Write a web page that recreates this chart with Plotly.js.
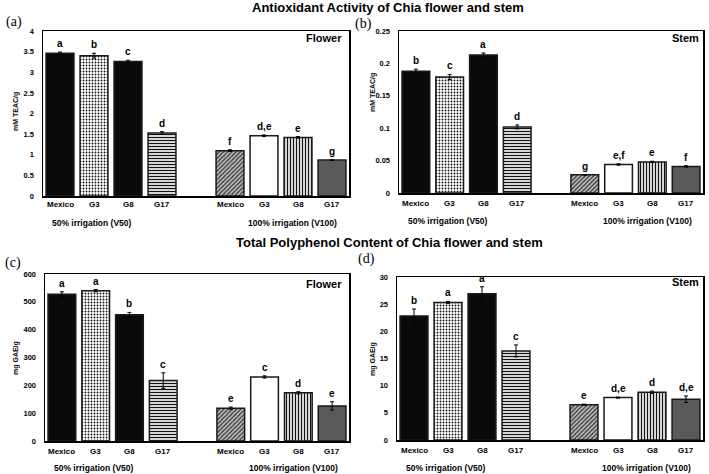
<!DOCTYPE html>
<html><head><meta charset="utf-8">
<script src="https://cdn.plot.ly/plotly-3.0.1.min.js"></script>
<style>body{margin:0;background:#fff}#chart{width:709px;height:474px}</style>
</head><body><div id="chart"></div>
<script>
// ---- data ----
const cultivars = ['Mexico', 'G3', 'G8', 'G17'];
const groupLabels = ['50% irrigation (V50)', '100% irrigation (V100)'];

const flowerTEAC_V50 = [3.46, 3.40, 3.26, 1.53];
const flowerTEAC_V100 = [1.10, 1.46, 1.42, 0.87];
const flowerTEAC_err_V50 = [0.03, 0.06, 0.03, 0.03];
const flowerTEAC_err_V100 = [0.02, 0.02, 0.02, 0.01];
const flowerTEAC_letters = ['a', 'b', 'c', 'd', 'f', 'd,e', 'e', 'g'];

const stemTEAC_V50 = [0.188, 0.179, 0.213, 0.102];
const stemTEAC_V100 = [0.028, 0.044, 0.048, 0.041];
const stemTEAC_err_V50 = [0.003, 0.004, 0.003, 0.003];
const stemTEAC_err_V100 = [0.0005, 0.001, 0.001, 0.001];
const stemTEAC_letters = ['b', 'c', 'a', 'd', 'g', 'e,f', 'e', 'f'];

const flowerGAE_V50 = [527, 540, 454, 217];
const flowerGAE_V100 = [118, 230, 173, 126];
const flowerGAE_err_V50 = [9, 4, 8, 28];
const flowerGAE_err_V100 = [4, 4, 4, 15];
const flowerGAE_letters = ['a', 'a', 'b', 'c', 'e', 'c', 'd', 'e'];

const stemGAE_V50 = [22.8, 25.3, 26.9, 16.4];
const stemGAE_V100 = [6.5, 7.8, 8.8, 7.5];
const stemGAE_err_V50 = [1.3, 0.2, 1.3, 1.1];
const stemGAE_err_V100 = [0.1, 0.1, 0.2, 0.6];
const stemGAE_letters = ['b', 'a', 'a', 'c', 'e', 'd,e', 'd', 'd,e'];

// ---- styling ----
const W = 709, H = 474;
const FONT = '"Liberation Sans", Arial, sans-serif';
const px = v => v / W, py = v => 1 - v / H;

// one style per bar slot (V50: Mexico, G3, G8, G17; V100: Mexico, G3, G8, G17)
const barStyles = [
  {color: '#0a0a0a', shape: ''},
  {color: '#ffffff', shape: '.', fg: '#111111', size: 3, sol: 0.3},
  {color: '#0a0a0a', shape: ''},
  {color: '#ffffff', shape: '-', fg: '#111111', size: 3, sol: 0.45},
  {color: '#c0c0c0', shape: '/', fg: '#3a3a3a', size: 3, sol: 0.45},
  {color: '#ffffff', shape: ''},
  {color: '#ffffff', shape: '|', fg: '#111111', size: 3, sol: 0.45},
  {color: '#5a5a5a', shape: ''}
];

// slot positions: 4 bars, empty slot, 4 bars
const xpos = [];
groupLabels.forEach((g, gi) => cultivars.forEach((c, ci) => xpos.push(gi * 5 + ci)));
const tickText = groupLabels.flatMap(() => cultivars);

const panels = [
  {v50: flowerTEAC_V50, v100: flowerTEAC_V100, e50: flowerTEAC_err_V50, e100: flowerTEAC_err_V100, letters: flowerTEAC_letters,
   range: [0, 4], dtick: 0.5, ytitle: 'mM TEAC/g', tag: 'Flower', label: '(a)',
   xd: [43, 349], yd: [31, 196], ytx: 16, yty: 112, lab: [4, 22], tagpos: [344, 38], catY: 204, grpY: 223, grpX: [0.95, 6.85]},
  {v50: stemTEAC_V50, v100: stemTEAC_V100, e50: stemTEAC_err_V50, e100: stemTEAC_err_V100, letters: stemTEAC_letters,
   range: [0, 0.25], dtick: 0.05, ytitle: 'mM TEAC/g', tag: 'Stem', label: '(b)',
   xd: [399, 703], yd: [31, 193], ytx: 373, yty: 92, lab: [353, 24], tagpos: [701, 38], catY: 203, grpY: 221, grpX: [0.95, 6.85]},
  {v50: flowerGAE_V50, v100: flowerGAE_V100, e50: flowerGAE_err_V50, e100: flowerGAE_err_V100, letters: flowerGAE_letters,
   range: [0, 600], dtick: 100, ytitle: 'mg GAE/g', tag: 'Flower', label: '(c)',
   xd: [45, 349], yd: [274, 441], ytx: 16, yty: 358, lab: [3, 263], tagpos: [344, 284], catY: 451, grpY: 468, grpX: [0.95, 6.85]},
  {v50: stemGAE_V50, v100: stemGAE_V100, e50: stemGAE_err_V50, e100: stemGAE_err_V100, letters: stemGAE_letters,
   range: [0, 30], dtick: 5, ytitle: 'mg GAE/g', tag: 'Stem', label: '(d)',
   xd: [397, 703], yd: [277, 440], ytx: 373, yty: 359, lab: [356, 259], tagpos: [701, 282], catY: 450, grpY: 468, grpX: [0.95, 6.85]}
];

const traces = [];
const layout = {
  width: W, height: H, margin: {l: 0, r: 0, t: 0, b: 0},
  paper_bgcolor: '#fff', plot_bgcolor: '#fff', showlegend: false,
  font: {family: FONT, color: '#000'},
  annotations: [], barmode: 'overlay'
};

const bold = (size) => ({family: FONT, size: size, color: '#000', weight: 700});

panels.forEach((p, i) => {
  const n = i === 0 ? '' : String(i + 1);
  const xa = 'x' + n, ya = 'y' + n;
  const vals = p.v50.concat(p.v100);
  const errs = p.e50.concat(p.e100);
  barStyles.forEach((s, k) => {
    const marker = {color: s.color, line: {color: '#1a1a1a', width: 1.5}};
    if (s.shape) marker.pattern = {shape: s.shape, fgcolor: s.fg, bgcolor: s.color, size: s.size, solidity: s.sol, fillmode: 'replace'};
    traces.push({
      type: 'bar', x: [xpos[k]], y: [vals[k]], xaxis: xa, yaxis: ya, width: 0.82, marker: marker,
      error_y: {type: 'data', array: [errs[k]], visible: true, color: '#000', thickness: 1, width: 2},
      hoverinfo: 'skip'
    });
  });
  layout['xaxis' + n] = {
    domain: [px(p.xd[0]), px(p.xd[1])], anchor: ya, range: [-0.5, 8.5],
    tickvals: xpos, ticktext: tickText, showticklabels: false,
    showline: true, mirror: true, linecolor: '#000', linewidth: 1.5, ticks: '', showgrid: false, zeroline: false, fixedrange: true
  };
  layout['yaxis' + n] = {
    domain: [py(p.yd[1]), py(p.yd[0])], anchor: xa, range: p.range, dtick: p.dtick,
    tickfont: bold(7.5), showline: true, mirror: true, linecolor: '#000', linewidth: 1.5,
    ticks: '', ticklabelstandoff: 6, showgrid: false, zeroline: false, fixedrange: true
  };
  xpos.forEach((x, k) => layout.annotations.push({
    xref: xa, yref: 'paper', x: x, y: py(p.catY), text: tickText[k], showarrow: false,
    font: bold(8), xanchor: 'center', yanchor: 'middle'
  }));
  groupLabels.forEach((g, gi) => layout.annotations.push({
    xref: xa, yref: 'paper', x: p.grpX[gi], y: py(p.grpY), text: g, showarrow: false,
    font: bold(8.5), xanchor: 'center', yanchor: 'middle'
  }));
  xpos.forEach((x, k) => layout.annotations.push({
    xref: xa, yref: ya, x: x, y: vals[k] + errs[k], text: p.letters[k], showarrow: false,
    font: bold(10), xanchor: 'center', yanchor: 'bottom', yshift: 1
  }));
  layout.annotations.push({
    xref: 'paper', yref: 'paper', x: px(p.ytx), y: py(p.yty), text: p.ytitle, showarrow: false, textangle: -90,
    font: bold(7), xanchor: 'center', yanchor: 'middle'
  });
  layout.annotations.push({
    xref: 'paper', yref: 'paper', x: px(p.tagpos[0]), y: py(p.tagpos[1]), text: p.tag, showarrow: false,
    font: bold(11), xanchor: 'right', yanchor: 'middle'
  });
  layout.annotations.push({
    xref: 'paper', yref: 'paper', x: px(p.lab[0]), y: py(p.lab[1]), text: p.label, showarrow: false,
    font: {family: '"Liberation Serif", "DejaVu Serif", serif', size: 14, color: '#000'}, xanchor: 'left', yanchor: 'middle'
  });
});

layout.annotations.push({xref: 'paper', yref: 'paper', x: px(388), y: py(7), text: 'Antioxidant Activity of Chia flower and stem',
  showarrow: false, font: bold(13), xanchor: 'center', yanchor: 'middle', borderpad: 0});
layout.annotations.push({xref: 'paper', yref: 'paper', x: px(389), y: py(243), text: 'Total Polyphenol Content of Chia flower and stem',
  showarrow: false, font: bold(13), xanchor: 'center', yanchor: 'middle', borderpad: 0});

Plotly.newPlot('chart', traces, layout, {displayModeBar: false, staticPlot: true});
</script></body></html>
